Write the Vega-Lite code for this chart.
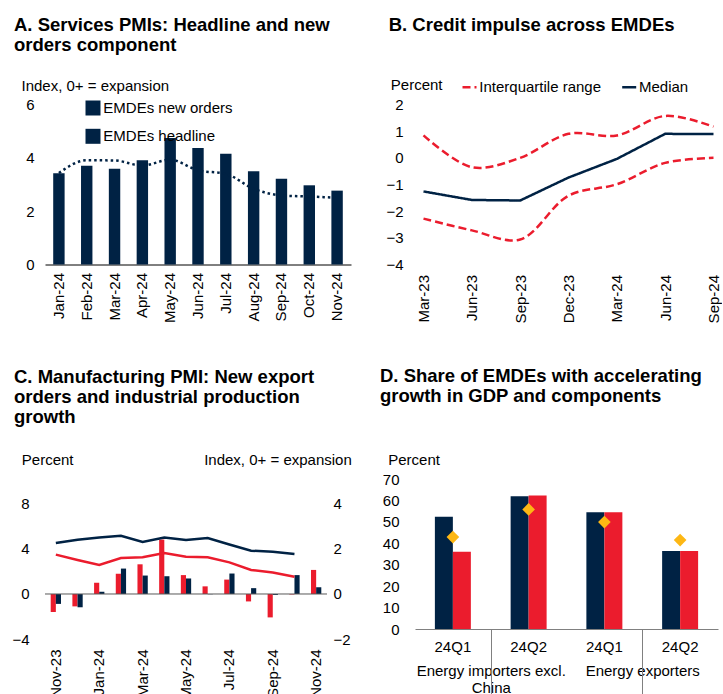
{
  "$schema": "https://vega.github.io/schema/vega-lite/v6.json",
  "padding": {"left": 11, "top": 15.5, "right": 0, "bottom": 0},
  "columns": 2,
  "align": "none",
  "bounds": "flush",
  "spacing": {"row": 214.5, "column": 88},
  "config": {
    "font": "Liberation Sans",
    "view": {"stroke": null},
    "axis": {"labelFontSize": 15, "labelColor": "#000", "titleFontSize": 15, "titleFontWeight": "normal", "titleColor": "#000", "grid": false, "ticks": false, "domain": false, "labelLimit": 400},
    "legend": {"labelFontSize": 15, "labelColor": "#000", "padding": 0, "labelLimit": 400},
    "title": {"fontSize": 18.5, "fontWeight": "bold", "color": "#000", "anchor": "start", "frame": "group", "lineHeight": 20, "baseline": "alphabetic"}
  },
  "concat": [
    {
      "width": 276, "height": 160,
      "title": {"text": ["A. Services PMIs: Headline and new", "orders component"], "dx": -31, "offset": 24},
      "data": {"values": [
        {"month": "Jan-24", "orders": 3.42, "headline": 3.43},
        {"month": "Feb-24", "orders": 3.70, "headline": 3.91},
        {"month": "Mar-24", "orders": 3.59, "headline": 3.90},
        {"month": "Apr-24", "orders": 3.91, "headline": 3.71},
        {"month": "May-24", "orders": 4.74, "headline": 3.93},
        {"month": "Jun-24", "orders": 4.37, "headline": 3.53},
        {"month": "Jul-24", "orders": 4.15, "headline": 3.40},
        {"month": "Aug-24", "orders": 3.50, "headline": 2.84},
        {"month": "Sep-24", "orders": 3.22, "headline": 2.59},
        {"month": "Oct-24", "orders": 2.97, "headline": 2.55},
        {"month": "Nov-24", "orders": 2.77, "headline": 2.50}
      ]},
      "encoding": {
        "x": {"field": "month", "type": "ordinal", "sort": null,
          "scale": {"range": [0, 306], "paddingInner": 0.59, "paddingOuter": 0.295},
          "axis": {"title": null, "labelAngle": -90, "labelPadding": 8, "domain": true, "domainColor": "#000", "domainWidth": 1}}
      },
      "layer": [
        {
          "mark": {"type": "bar", "color": "#002244"},
          "encoding": {
            "y": {"field": "orders", "type": "quantitative", "scale": {"domain": [0, 6], "nice": false},
              "axis": {"values": [0, 2, 4, 6], "labelPadding": 11, "title": "Index, 0+ = expansion", "titleAngle": 0, "titleAlign": "left", "titleBaseline": "alphabetic", "titleX": -24, "titleY": -14.2}},
            "opacity": {"datum": "EMDEs new orders", "type": "ordinal",
              "scale": {"domain": ["EMDEs new orders", "EMDEs headline"], "range": [1, 1]},
              "legend": {"title": null, "orient": "none", "legendX": 39.5, "legendY": -5, "direction": "vertical", "rowPadding": 7.3, "labelOffset": 1.8, "symbolSize": 225,
                "encode": {"symbols": {"update": {
                  "shape": {"signal": "datum.value === 'EMDEs headline' ? 'stroke' : 'M-1,-0.75H1V0.75H-1Z'"},
                  "size": {"signal": "datum.value === 'EMDEs headline' ? 225 : 144"},
                  "fill": {"signal": "datum.value === 'EMDEs headline' ? 'transparent' : '#002244'"},
                  "stroke": {"value": "#002244"},
                  "strokeWidth": {"signal": "datum.value === 'EMDEs headline' ? 2.5 : 0"},
                  "strokeDash": {"signal": "datum.value === 'EMDEs headline' ? [2.5, 3] : [1, 0]"},
                  "opacity": {"value": 1}
                }}}}}
          }
        },
        {
          "mark": {"type": "line", "color": "#002244", "strokeDash": [2.5, 3], "strokeWidth": 2.5, "interpolate": "monotone"},
          "encoding": {
            "y": {"field": "headline", "type": "quantitative"},
            "opacity": {"datum": "EMDEs headline", "type": "ordinal"}
          }
        }
      ]
    },
    {
      "width": 307, "height": 160,
      "title": {"text": "B. Credit impulse across EMDEs", "dx": -26.3, "offset": 42.9},
      "data": {"values": [
        {"q": "Mar-23", "series": "Median", "band": "m", "value": -1.26},
        {"q": "Jun-23", "series": "Median", "band": "m", "value": -1.58},
        {"q": "Sep-23", "series": "Median", "band": "m", "value": -1.60},
        {"q": "Dec-23", "series": "Median", "band": "m", "value": -0.74},
        {"q": "Mar-24", "series": "Median", "band": "m", "value": -0.04},
        {"q": "Jun-24", "series": "Median", "band": "m", "value": 0.90},
        {"q": "Sep-24", "series": "Median", "band": "m", "value": 0.89},
        {"q": "Mar-23", "series": "Interquartile range", "band": "upper", "value": 0.84},
        {"q": "Jun-23", "series": "Interquartile range", "band": "upper", "value": -0.35},
        {"q": "Sep-23", "series": "Interquartile range", "band": "upper", "value": 0.0},
        {"q": "Dec-23", "series": "Interquartile range", "band": "upper", "value": 0.90},
        {"q": "Mar-24", "series": "Interquartile range", "band": "upper", "value": 0.84},
        {"q": "Jun-24", "series": "Interquartile range", "band": "upper", "value": 1.57},
        {"q": "Sep-24", "series": "Interquartile range", "band": "upper", "value": 1.17},
        {"q": "Mar-23", "series": "Interquartile range", "band": "lower", "value": -2.28},
        {"q": "Jun-23", "series": "Interquartile range", "band": "lower", "value": -2.72},
        {"q": "Sep-23", "series": "Interquartile range", "band": "lower", "value": -3.06},
        {"q": "Dec-23", "series": "Interquartile range", "band": "lower", "value": -1.42},
        {"q": "Mar-24", "series": "Interquartile range", "band": "lower", "value": -0.99},
        {"q": "Jun-24", "series": "Interquartile range", "band": "lower", "value": -0.19},
        {"q": "Sep-24", "series": "Interquartile range", "band": "lower", "value": 0.0}
      ]},
      "encoding": {
        "y": {"field": "value", "type": "quantitative", "scale": {"domain": [-4, 2], "nice": false},
          "axis": {"values": [-4, -3, -2, -1, 0, 1, 2], "labelPadding": 12, "title": "Percent", "titleAngle": 0, "titleAlign": "left", "titleBaseline": "alphabetic", "titleX": -24.7, "titleY": -15}}
      },
      "layer": [
        {
          "data": {"values": [{}]},
          "mark": {"type": "rule", "color": "#8c8c8c", "strokeWidth": 1},
          "encoding": {"y": {"datum": 0, "type": "quantitative"}}
        },
        {
          "transform": [{"filter": "datum.series === 'Interquartile range'"}],
          "mark": {"type": "line", "strokeWidth": 2.5, "interpolate": "catmull-rom"},
          "encoding": {
            "x": {"field": "q", "type": "ordinal", "scale": {"type": "point", "padding": 0.176, "domain": ["Mar-23", "Jun-23", "Sep-23", "Dec-23", "Mar-24", "Jun-24", "Sep-24"]},
              "axis": {"title": null, "labelAngle": -90, "labelPadding": 10}},
            "color": {"field": "series", "type": "nominal", "scale": {"domain": ["Interquartile range", "Median"], "range": ["#EB1C2D", "#002244"]},
              "legend": {"title": null, "orient": "none", "legendX": 416, "legendY": -26, "direction": "horizontal", "symbolType": "stroke", "symbolSize": 196, "symbolStrokeWidth": 2.5, "columnPadding": 14.7, "labelOffset": 1.3}},
            "strokeDash": {"field": "series", "type": "nominal", "scale": {"domain": ["Interquartile range", "Median"], "range": [[8, 4], [1, 0]]},
              "legend": {"title": null, "orient": "none", "legendX": 416, "legendY": -26, "direction": "horizontal", "symbolType": "stroke", "symbolSize": 196, "symbolStrokeWidth": 2.5, "columnPadding": 14.7, "labelOffset": 1.3}},
            "detail": {"field": "band"}
          }
        },
        {
          "transform": [{"filter": "datum.series === 'Median'"}],
          "mark": {"type": "line", "strokeWidth": 2.5},
          "encoding": {
            "x": {"field": "q", "type": "ordinal"},
            "color": {"field": "series", "type": "nominal"},
            "strokeDash": {"field": "series", "type": "nominal"}
          }
        }
      ]
    },
    {
      "width": 282, "height": 160,
      "title": {"text": ["C. Manufacturing PMI: New export", "orders and industrial production", "growth"], "dx": -31, "offset": 26},
      "data": {"values": [
        {"month": "Nov-23", "series": "PMI, EMDEs excl. China (RHS)", "value": -0.80},
        {"month": "Dec-23", "series": "PMI, EMDEs excl. China (RHS)", "value": -0.55},
        {"month": "Jan-24", "series": "PMI, EMDEs excl. China (RHS)", "value": 0.50},
        {"month": "Feb-24", "series": "PMI, EMDEs excl. China (RHS)", "value": 0.90},
        {"month": "Mar-24", "series": "PMI, EMDEs excl. China (RHS)", "value": 1.32},
        {"month": "Apr-24", "series": "PMI, EMDEs excl. China (RHS)", "value": 2.42},
        {"month": "May-24", "series": "PMI, EMDEs excl. China (RHS)", "value": 0.84},
        {"month": "Jun-24", "series": "PMI, EMDEs excl. China (RHS)", "value": 0.34},
        {"month": "Jul-24", "series": "PMI, EMDEs excl. China (RHS)", "value": 0.64},
        {"month": "Aug-24", "series": "PMI, EMDEs excl. China (RHS)", "value": -0.33},
        {"month": "Sep-24", "series": "PMI, EMDEs excl. China (RHS)", "value": -1.04},
        {"month": "Oct-24", "series": "PMI, EMDEs excl. China (RHS)", "value": -0.02},
        {"month": "Nov-24", "series": "PMI, EMDEs excl. China (RHS)", "value": 1.07},
        {"month": "Nov-23", "series": "PMI, EMDEs (RHS)", "value": -0.44},
        {"month": "Dec-23", "series": "PMI, EMDEs (RHS)", "value": -0.59},
        {"month": "Jan-24", "series": "PMI, EMDEs (RHS)", "value": 0.10},
        {"month": "Feb-24", "series": "PMI, EMDEs (RHS)", "value": 1.13},
        {"month": "Mar-24", "series": "PMI, EMDEs (RHS)", "value": 0.82},
        {"month": "Apr-24", "series": "PMI, EMDEs (RHS)", "value": 0.79},
        {"month": "May-24", "series": "PMI, EMDEs (RHS)", "value": 0.69},
        {"month": "Jun-24", "series": "PMI, EMDEs (RHS)", "value": -0.01},
        {"month": "Jul-24", "series": "PMI, EMDEs (RHS)", "value": 0.91},
        {"month": "Aug-24", "series": "PMI, EMDEs (RHS)", "value": 0.26},
        {"month": "Sep-24", "series": "PMI, EMDEs (RHS)", "value": -0.04},
        {"month": "Oct-24", "series": "PMI, EMDEs (RHS)", "value": 0.84},
        {"month": "Nov-24", "series": "PMI, EMDEs (RHS)", "value": 0.30},
        {"month": "Nov-23", "series": "Industrial production, EMDEs excl. China", "value": 3.50},
        {"month": "Dec-23", "series": "Industrial production, EMDEs excl. China", "value": 3.02},
        {"month": "Jan-24", "series": "Industrial production, EMDEs excl. China", "value": 2.58},
        {"month": "Feb-24", "series": "Industrial production, EMDEs excl. China", "value": 3.20},
        {"month": "Mar-24", "series": "Industrial production, EMDEs excl. China", "value": 3.26},
        {"month": "Apr-24", "series": "Industrial production, EMDEs excl. China", "value": 3.64},
        {"month": "May-24", "series": "Industrial production, EMDEs excl. China", "value": 3.32},
        {"month": "Jun-24", "series": "Industrial production, EMDEs excl. China", "value": 3.26},
        {"month": "Jul-24", "series": "Industrial production, EMDEs excl. China", "value": 2.81},
        {"month": "Aug-24", "series": "Industrial production, EMDEs excl. China", "value": 2.13},
        {"month": "Sep-24", "series": "Industrial production, EMDEs excl. China", "value": 1.92},
        {"month": "Oct-24", "series": "Industrial production, EMDEs excl. China", "value": 1.54},
        {"month": "Nov-23", "series": "Industrial production, EMDEs", "value": 4.53},
        {"month": "Dec-23", "series": "Industrial production, EMDEs", "value": 4.83},
        {"month": "Jan-24", "series": "Industrial production, EMDEs", "value": 5.03},
        {"month": "Feb-24", "series": "Industrial production, EMDEs", "value": 5.18},
        {"month": "Mar-24", "series": "Industrial production, EMDEs", "value": 4.62},
        {"month": "Apr-24", "series": "Industrial production, EMDEs", "value": 5.03},
        {"month": "May-24", "series": "Industrial production, EMDEs", "value": 4.80},
        {"month": "Jun-24", "series": "Industrial production, EMDEs", "value": 4.98},
        {"month": "Jul-24", "series": "Industrial production, EMDEs", "value": 4.40},
        {"month": "Aug-24", "series": "Industrial production, EMDEs", "value": 3.85},
        {"month": "Sep-24", "series": "Industrial production, EMDEs", "value": 3.76},
        {"month": "Oct-24", "series": "Industrial production, EMDEs", "value": 3.56}
      ]},
      "layer": [
        {
          "transform": [{"filter": "datum.series === 'PMI, EMDEs excl. China (RHS)'"}],
          "mark": {"type": "bar", "color": "#EB1C2D", "width": {"band": 0.5}, "xOffset": -2.575},
          "encoding": {
            "x": {"field": "month", "type": "ordinal",
              "scale": {"domain": ["Nov-23", "Dec-23", "Jan-24", "Feb-24", "Mar-24", "Apr-24", "May-24", "Jun-24", "Jul-24", "Aug-24", "Sep-24", "Oct-24", "Nov-24"], "paddingInner": 0.525, "paddingOuter": 0.2625},
              "axis": {"title": null, "labelAngle": -90, "labelPadding": 10, "values": ["Nov-23", "Jan-24", "Mar-24", "May-24", "Jul-24", "Sep-24", "Nov-24"]}},
            "y": {"field": "value", "type": "quantitative", "scale": {"domain": [-2, 5.111], "nice": false, "zero": false},
              "axis": {"orient": "right", "values": [-2, 0, 2, 4], "labelPadding": 6, "title": "Index, 0+ = expansion", "titleAngle": 0, "titleAlign": "right", "titleBaseline": "alphabetic", "titleX": 24.3, "titleY": -14.7}},
            "fillOpacity": {"field": "series", "type": "ordinal",
              "scale": {"domain": ["PMI, EMDEs excl. China (RHS)", "PMI, EMDEs (RHS)", "Industrial production, EMDEs excl. China", "Industrial production, EMDEs"], "range": [1, 1, 1, 1]},
              "legend": {"title": null, "orient": "none", "legendX": 2.5, "legendY": -13, "direction": "vertical", "rowPadding": 1.9, "labelOffset": 1.5, "symbolSize": 100,
                "encode": {"symbols": {"update": {
                  "shape": {"signal": "indexof(datum.value, 'Industrial') === 0 ? 'stroke' : 'square'"},
                  "size": {"signal": "indexof(datum.value, 'Industrial') === 0 ? 100 : 72"},
                  "fill": {"signal": "indexof(datum.value, 'Industrial') === 0 ? 'transparent' : (indexof(datum.value, 'excl') >= 0 ? '#EB1C2D' : '#002244')"},
                  "stroke": {"signal": "indexof(datum.value, 'excl') >= 0 ? '#EB1C2D' : '#002244'"},
                  "strokeWidth": {"signal": "indexof(datum.value, 'Industrial') === 0 ? 2.5 : 0"},
                  "opacity": {"value": 1},
                  "fillOpacity": {"value": 1}
                }}}}}
          }
        },
        {
          "transform": [{"filter": "datum.series === 'PMI, EMDEs (RHS)'"}],
          "mark": {"type": "bar", "color": "#002244", "width": {"band": 0.5}, "xOffset": 2.575},
          "encoding": {
            "x": {"field": "month", "type": "ordinal"},
            "y": {"field": "value", "type": "quantitative", "scale": {"domain": [-2, 5.111], "nice": false, "zero": false}, "axis": null},
            "fillOpacity": {"field": "series", "type": "ordinal"}
          }
        },
        {
          "data": {"values": [{}]},
          "mark": {"type": "rule", "color": "#595959", "strokeWidth": 1},
          "encoding": {"y": {"datum": 0, "type": "quantitative", "scale": {"domain": [-4, 10.222], "nice": false}, "axis": null}}
        },
        {
          "transform": [{"filter": "datum.series === 'Industrial production, EMDEs excl. China'"}],
          "mark": {"type": "line", "color": "#EB1C2D", "strokeWidth": 2.5},
          "encoding": {
            "x": {"field": "month", "type": "ordinal"},
            "y": {"field": "value", "type": "quantitative", "scale": {"domain": [-4, 10.222], "nice": false},
              "axis": {"orient": "left", "values": [-4, 0, 4, 8], "labelPadding": 16, "title": "Percent", "titleAngle": 0, "titleAlign": "left", "titleBaseline": "alphabetic", "titleX": -23.7, "titleY": -14.7}},
            "fillOpacity": {"field": "series", "type": "ordinal"}
          }
        },
        {
          "transform": [{"filter": "datum.series === 'Industrial production, EMDEs'"}],
          "mark": {"type": "line", "color": "#002244", "strokeWidth": 2.5},
          "encoding": {
            "x": {"field": "month", "type": "ordinal"},
            "y": {"field": "value", "type": "quantitative", "scale": {"domain": [-4, 10.222], "nice": false}, "axis": null},
            "fillOpacity": {"field": "series", "type": "ordinal"}
          }
        }
      ],
      "resolve": {"scale": {"y": "independent"}}
    },
    {
      "width": 303, "height": 150,
      "title": {"text": ["D. Share of EMDEs with accelerating", "growth in GDP and components"], "dx": -35, "offset": 47},
      "data": {"values": [
        {"group": "Energy importers excl. China", "cat": "imp 24Q1", "series": "Consumption", "value": 52.4},
        {"group": "Energy importers excl. China", "cat": "imp 24Q1", "series": "Investment", "value": 36.1},
        {"group": "Energy importers excl. China", "cat": "imp 24Q1", "series": "GDP", "value": 42.9},
        {"group": "Energy importers excl. China", "cat": "imp 24Q2", "series": "Consumption", "value": 62.0},
        {"group": "Energy importers excl. China", "cat": "imp 24Q2", "series": "Investment", "value": 62.3},
        {"group": "Energy importers excl. China", "cat": "imp 24Q2", "series": "GDP", "value": 55.8},
        {"group": "Energy exporters", "cat": "exp 24Q1", "series": "Consumption", "value": 54.5},
        {"group": "Energy exporters", "cat": "exp 24Q1", "series": "Investment", "value": 54.5},
        {"group": "Energy exporters", "cat": "exp 24Q1", "series": "GDP", "value": 49.9},
        {"group": "Energy exporters", "cat": "exp 24Q2", "series": "Consumption", "value": 36.4},
        {"group": "Energy exporters", "cat": "exp 24Q2", "series": "Investment", "value": 36.4},
        {"group": "Energy exporters", "cat": "exp 24Q2", "series": "GDP", "value": 41.5}
      ]},
      "encoding": {
        "y": {"field": "value", "type": "quantitative", "scale": {"domain": [0, 70], "nice": false},
          "axis": {"values": [0, 10, 20, 30, 40, 50, 60, 70], "labelPadding": 16, "title": "Percent", "titleAngle": 0, "titleAlign": "left", "titleBaseline": "alphabetic", "titleX": -27.3, "titleY": -14.7}}
      },
      "layer": [
        {
          "transform": [{"filter": "datum.series === 'Consumption'"}],
          "mark": {"type": "bar", "color": "#002244", "width": {"band": 0.5}, "xOffset": -9},
          "encoding": {
            "x": {"field": "cat", "type": "nominal", "scale": {"domain": ["imp 24Q1", "imp 24Q2", "exp 24Q1", "exp 24Q2"], "paddingInner": 0.525, "paddingOuter": 0.2625},
              "axis": {"orient": "bottom", "title": null, "labelAngle": 0, "labelExpr": "slice(datum.value, -4)", "labelPadding": 10, "domain": true, "domainColor": "#808080", "domainWidth": 1}},
            "strokeOpacity": {"field": "series", "type": "ordinal",
              "scale": {"domain": ["Consumption", "Investment", "GDP"], "range": [1, 1, 1]},
              "legend": {"title": null, "orient": "none", "legendX": 14.5, "legendY": -8.8, "direction": "horizontal", "columnPadding": 17, "labelOffset": 2.6, "symbolSize": 80,
                "encode": {"symbols": {"update": {
                  "shape": {"signal": "datum.value === 'GDP' ? 'diamond' : 'square'"},
                  "size": {"signal": "datum.value === 'GDP' ? 80 : 64"},
                  "fill": {"signal": "datum.value === 'GDP' ? '#FDB714' : (datum.value === 'Investment' ? '#EB1C2D' : '#002244')"},
                  "strokeWidth": {"value": 0},
                  "opacity": {"value": 1}
                }}}}}
          }
        },
        {
          "transform": [{"filter": "datum.series === 'Investment'"}],
          "mark": {"type": "bar", "color": "#EB1C2D", "width": {"band": 0.5}, "xOffset": 9},
          "encoding": {
            "x": {"field": "cat", "type": "nominal", "scale": {"domain": ["imp 24Q1", "imp 24Q2", "exp 24Q1", "exp 24Q2"], "paddingInner": 0.525, "paddingOuter": 0.2625}, "axis": null},
            "strokeOpacity": {"field": "series", "type": "ordinal"}
          }
        },
        {
          "transform": [{"filter": "datum.series === 'GDP'"}],
          "mark": {"type": "point", "shape": "diamond", "filled": true, "color": "#FDB714", "size": 160, "opacity": 1},
          "encoding": {
            "x": {"field": "cat", "type": "nominal", "scale": {"domain": ["imp 24Q1", "imp 24Q2", "exp 24Q1", "exp 24Q2"], "paddingInner": 0.525, "paddingOuter": 0.2625}, "axis": null},
            "strokeOpacity": {"field": "series", "type": "ordinal"}
          }
        },
        {
          "transform": [{"filter": "datum.series === 'GDP'"}],
          "mark": {"type": "point", "opacity": 0},
          "encoding": {
            "x": {"field": "group", "type": "nominal", "scale": {"domain": ["Energy importers excl. China", "Energy exporters"], "paddingInner": 0, "paddingOuter": 0},
              "axis": {"orient": "bottom", "title": null, "labelAngle": 0, "labelPadding": 34, "labelLineHeight": 17, "labelBaseline": "top",
                "labelExpr": "datum.value === 'Energy importers excl. China' ? ['Energy importers excl.', 'China'] : datum.value"}}
          }
        },
        {
          "transform": [{"filter": "datum.series === 'GDP'"}],
          "mark": {"type": "point", "opacity": 0},
          "encoding": {
            "x": {"field": "group", "type": "nominal", "scale": {"domain": ["Energy importers excl. China", "Energy exporters"], "paddingInner": 0, "paddingOuter": 0},
              "axis": {"orient": "bottom", "title": null, "labels": false, "ticks": true, "tickSize": 75, "tickColor": "#808080", "tickWidth": 1, "bandPosition": 1, "tickExtra": true, "domain": false}}
          }
        }
      ],
      "resolve": {"scale": {"x": "independent"}}
    }
  ]
}
